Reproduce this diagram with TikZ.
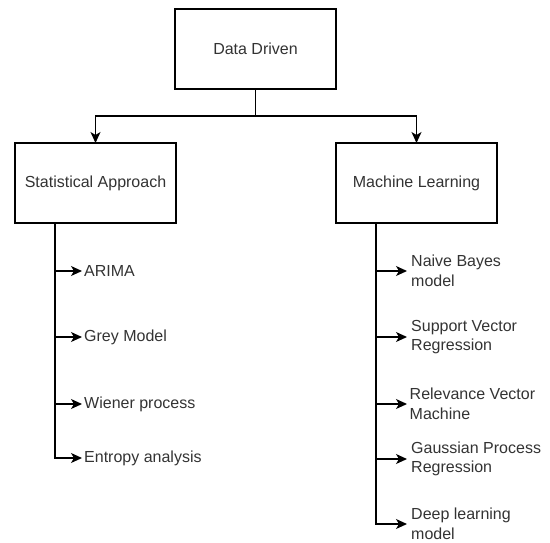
\documentclass[tikz,border=0pt]{standalone}
\usepackage{fontspec}
\setmainfont{Liberation Sans}
\usetikzlibrary{arrows.meta}
\definecolor{txt}{HTML}{333333}
\tikzset{
  box/.style={draw=black, line width=1.3pt, fill=white, minimum width=161pt,
    minimum height=80pt, inner sep=0pt, outer sep=0pt, text=txt,
    font=\fontsize{16}{19.5}\selectfont},
  item/.style={anchor=west, inner sep=0pt, inner xsep=2pt, text=txt, align=left,
    font=\fontsize{16}{19.5}\selectfont},
  arr/.style={line width=1.3pt, draw=black,
    -{Stealth[length=11pt,width=10pt,inset=3pt]}},
}
\begin{document}
\begin{tikzpicture}[x=1pt,y=-1pt]
\useasboundingbox (0,0) rectangle (550,542);

% boxes
\node[box] (dd)   at (255.5,49)  {Data Driven};
\node[box] (stat) at (95.5,183)  {Statistical Approach};
\node[box] (ml)   at (416.5,183) {Machine Learning};

% split from the top box
\coordinate (split) at (255.5,116);
\draw[line width=1.3pt] (dd.south) -- (split);
\draw[arr] (split) -| (stat.north);
\draw[arr] (split) -| (ml.north);

% statistical methods
\coordinate (sroot) at (55,223);
\node[item] (arima)   at (82,271) {ARIMA};
\node[item] (grey)    at (82,337) {Grey Model};
\node[item] (wiener)  at (82,404) {Wiener process};
\node[item] (entropy) at (82,458) {Entropy analysis};
\foreach \n in {arima,grey,wiener,entropy}
  \draw[arr] (sroot) |- (\n.west);

% machine learning methods
\coordinate (mroot) at (376,223);
\node[item, inner xsep=4pt] (nb)   at (407,271) {Naive Bayes\\model};
\node[item, inner xsep=4pt] (svr)  at (407,337) {Support Vector\\Regression};
\node[item, inner xsep=2.5pt] (rvm) at (407,404) {Relevance Vector\\Machine};
\node[item, inner xsep=4pt] (gpr)  at (407,459) {Gaussian Process\\Regression};
\node[item, inner xsep=4pt] (deep) at (407,524) {Deep learning\\model};
\foreach \n in {nb,svr,rvm,gpr,deep}
  \draw[arr] (mroot) |- (\n.west);
\end{tikzpicture}
\end{document}
